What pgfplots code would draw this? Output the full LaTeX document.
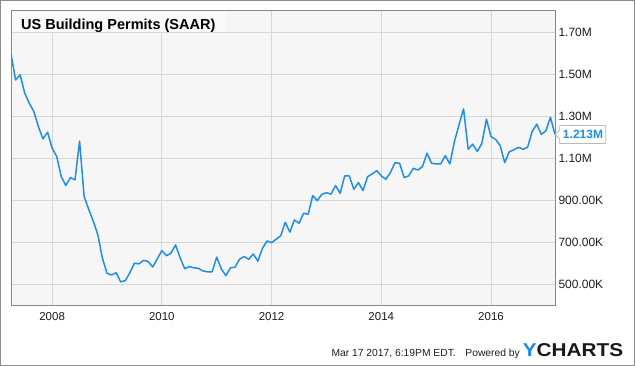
\documentclass[border=0pt]{standalone}
\usepackage{fontspec}
\setmainfont{Liberation Sans}
\usepackage{graphicx}
\usepackage{pgfplots}
\usepackage{pgfplotstable}
\pgfplotsset{compat=1.18}
\definecolor{ylineblue}{RGB}{31,142,235}
\definecolor{plotbg}{RGB}{246,246,246}
\definecolor{titlebg}{RGB}{250,250,250}
\definecolor{gridgray}{RGB}{215,215,215}
\definecolor{framegray}{RGB}{140,140,140}
\definecolor{axgray}{RGB}{135,135,135}
\definecolor{txt}{RGB}{30,30,30}
\definecolor{ylogo}{RGB}{24,140,230}

% i = month index (0 = Mar 2007, 119 = Feb 2017), v = permits (thousands, SAAR)
\pgfplotstableread{
i v
0 1597
1 1473
2 1497
3 1410
4 1362
5 1322
6 1250
7 1192
8 1224
9 1148
10 1108
11 1012
12 970
13 1008
14 997
15 1182
16 917
17 857
18 800
19 735
20 624
21 552
22 544
23 555
24 511
25 517
26 555
27 600
28 597
29 614
30 608
31 582
32 621
33 660
34 636
35 648
36 687
37 625
38 574
39 584
40 578
41 576
42 563
43 559
44 559
45 629
46 573
47 541
48 578
49 581
50 619
51 632
52 619
53 644
54 610
55 671
56 706
57 698
58 714
59 731
60 795
61 748
62 806
63 790
64 838
65 833
66 922
67 898
68 928
69 936
70 929
71 970
72 933
73 1016
74 1016
75 952
76 984
77 946
78 1012
79 1025
80 1041
81 1016
82 1000
83 1032
84 1079
85 1076
86 1008
87 1016
88 1052
89 1044
90 1060
91 1124
92 1076
93 1073
94 1073
95 1112
96 1073
97 1179
98 1259
99 1335
100 1143
101 1167
102 1132
103 1171
104 1286
105 1203
106 1190
107 1160
108 1079
109 1131
110 1140
111 1152
112 1143
113 1152
114 1227
115 1262
116 1214
117 1230
118 1295
119 1213
}\permits

\begin{document}
\begin{tikzpicture}
\fill[white] (0,0) rectangle (635bp,366bp);
\begin{axis}[
  at={(11bp,61bp)}, anchor=south west,
  width=544bp, height=295bp, scale only axis,
  xmin=0, xmax=119, ymin=401, ymax=1806,
  axis background/.style={fill=plotbg},
  axis line style={axgray, line width=0.8bp},
  grid=major, grid style={gridgray, line width=0.9bp},
  xtick={9,33,57,81,105}, xticklabels={2008,2010,2012,2014,2016},
  ytick={500,700,900,1100,1300,1500,1700},
  yticklabels={500.00K,700.00K,900.00K,1.10M,1.30M,1.50M,1.70M},
  yticklabel pos=right,
  major tick length=0pt,
  tick style={draw=none},
  xticklabel style={font=\fontsize{11.5bp}{13bp}\selectfont, text=txt, anchor=base, yshift=-15.7bp},
  yticklabel style={font=\fontsize{12bp}{14bp}\selectfont, text=txt, anchor=west},
  clip mode=individual,
]
\addplot[ylineblue, line width=1.5bp, line join=round] table[x=i,y=v] {\permits};
\coordinate (last) at (axis cs:119,1213);
\end{axis}
% title box
\fill[titlebg] (11.6bp,333.6bp) rectangle (226bp,355.4bp);
\node[anchor=base west, font=\bfseries\fontsize{14.5bp}{17bp}\selectfont, inner sep=0, text=black] at (21bp,336.7bp) {US Building Permits (SAAR)};
% last value label
\draw[gray!55, fill=white, line width=0.8bp] ([xshift=0.3bp]last) -- ++(4.5bp,4.5bp) -- ++(0,4.5bp) -- ++(46bp,0) -- ++(0,-18bp) -- ++(-46bp,0) -- ++(0,4.5bp) -- cycle;
\node[font=\bfseries\fontsize{12bp}{14bp}\selectfont, text=ylineblue, inner sep=0] at ([xshift=28bp]last) {1.213M};
% footer
\node[anchor=base east, font=\fontsize{10.3bp}{12bp}\selectfont, text=txt, inner sep=0] at (456bp,9.3bp) {Mar 17 2017, 6:19PM EDT.};
\node[anchor=base east, font=\fontsize{10.3bp}{12bp}\selectfont, text=txt, inner sep=0] at (520bp,9.3bp) {Powered by};
\node[anchor=base west, font=\bfseries\fontsize{18.6bp}{20bp}\selectfont, inner sep=0] at (522.7bp,10bp) {\scalebox{1.115}[1]{\textcolor{ylogo}{Y}\textcolor{black!90}{CHARTS}}};
% outer frame
\draw[framegray, line width=1bp] (0.5bp,0.5bp) rectangle (634.5bp,365.5bp);
\end{tikzpicture}
\end{document}
